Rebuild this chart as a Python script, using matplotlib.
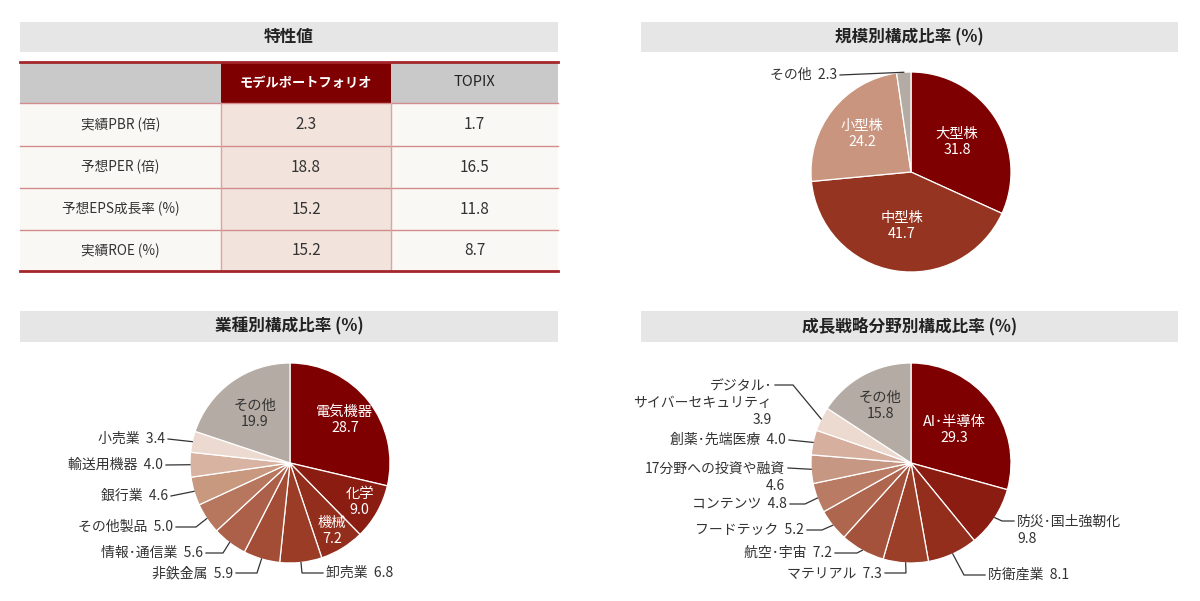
import numpy as np
import matplotlib.pyplot as plt
from matplotlib.patches import Rectangle

plt.rcParams['font.family'] = ['Noto Sans CJK JP', 'DejaVu Sans']

W, H = 1200, 601
R = 100
TXT = '#333333'

# --- data ---
table_rows = ['実績PBR (倍)', '予想PER (倍)', '予想EPS成長率 (%)', '実績ROE (%)']
table_head = ['', 'モデルポートフォリオ', 'TOPIX']
model_vals = [2.3, 18.8, 15.2, 15.2]
topix_vals = [1.7, 16.5, 11.8, 8.7]

size_labels = ['大型株', '中型株', '小型株', 'その他']
size_vals = [31.8, 41.7, 24.2, 2.3]
size_colors = ['#7f0000', '#953421', '#c9957f', '#b4aca4']

sector_labels = ['電気機器', '化学', '機械', '卸売業', '非鉄金属', '情報･通信業',
                 'その他製品', '銀行業', '輸送用機器', '小売業', 'その他']
sector_vals = [28.7, 9.0, 7.2, 6.8, 5.9, 5.6, 5.0, 4.6, 4.0, 3.4, 19.9]
sector_colors = ['#7f0000', '#8a1c12', '#942e1c', '#9b3c27', '#a34d36', '#ac604a',
                 '#b7765e', '#c8987f', '#d8b3a2', '#ecd9cf', '#b4aca4']

growth_labels = ['AI･半導体', '防災･国土強靭化', '防衛産業', 'マテリアル', '航空･宇宙',
                 'フードテック', 'コンテンツ', '17分野への投資や融資', '創薬･先端医療',
                 'デジタル･\nサイバーセキュリティ', 'その他']
growth_vals = [29.3, 9.8, 8.1, 7.3, 7.2, 5.2, 4.8, 4.6, 4.0, 3.9, 15.8]
growth_colors = ['#7f0000', '#8a1c12', '#942e1c', '#9c3f29', '#a4523b', '#ae664f',
                 '#b97b64', '#c69782', '#d6af9e', '#ecd9cf', '#b4aca4']

fig = plt.figure(figsize=(12, 6.01), dpi=100)
ax = fig.add_axes([0, 0, 1, 1])


def Y(y):
    return H - y


def title_bar(x0, x1, y0, y1, text):
    ax.add_patch(Rectangle((x0, Y(y1)), x1 - x0, y1 - y0, facecolor='#e6e6e6', edgecolor='none'))
    ax.text((x0 + x1) / 2, Y((y0 + y1) / 2), text, ha='center', va='center',
            fontsize=12, fontweight='bold', color='#222222')


# --- table ---
title_bar(20, 558, 22, 52, '特性値')
xs = [20, 221, 391, 558]
ys = [62, 103, 146, 188, 230, 271]
head_fill = ['#c9c9c9', '#7f0000', '#c9c9c9']
for j in range(3):
    ax.add_patch(Rectangle((xs[j], Y(ys[1])), xs[j + 1] - xs[j], ys[1] - ys[0],
                           facecolor=head_fill[j], edgecolor='none'))
    ax.text((xs[j] + xs[j + 1]) / 2, Y((ys[0] + ys[1]) / 2), table_head[j],
            ha='center', va='center', fontsize=9.5 if j == 1 else 10.5,
            color='white' if j == 1 else '#222222', fontweight='bold' if j == 1 else 'normal')
for i, name in enumerate(table_rows):
    y0, y1 = ys[i + 1], ys[i + 2]
    cells = [name, f'{model_vals[i]:.1f}', f'{topix_vals[i]:.1f}']
    fills = ['#faf8f5', '#f2e4dc', '#faf8f5']
    for j in range(3):
        ax.add_patch(Rectangle((xs[j], Y(y1)), xs[j + 1] - xs[j], y1 - y0,
                               facecolor=fills[j], edgecolor='none'))
        ax.text((xs[j] + xs[j + 1]) / 2, Y((y0 + y1) / 2), cells[j], ha='center',
                va='center', fontsize=11 if j else 9.8, color=TXT)
for y in ys[1:-1]:
    ax.plot([xs[0], xs[-1]], [Y(y), Y(y)], color='#d38c8c', lw=1)
for x in xs[1:3]:
    ax.plot([x, x], [Y(ys[1]), Y(ys[-1])], color='#dba3a3', lw=1)
for y in (ys[0], ys[-1]):
    ax.plot([xs[0], xs[-1]], [Y(y), Y(y)], color='#a3262a', lw=2)


# --- pies ---
def draw_pie(vals, labels, colors, cx, cy, inner, outer):
    wedges, _ = ax.pie(vals, colors=colors, startangle=90, counterclock=False,
                       radius=R, center=(cx, Y(cy)), frame=True,
                       wedgeprops=dict(edgecolor='white', linewidth=0.9))
    mids = [np.deg2rad((w.theta1 + w.theta2) / 2) for w in wedges]
    # labels inside the wedges
    for i, (f, col) in inner.items():
        a = mids[i]
        ax.text(cx + f * R * np.cos(a), Y(cy) + f * R * np.sin(a),
                f'{labels[i]}\n{vals[i]:.1f}', ha='center', va='center',
                fontsize=10.3, color=col, linespacing=1.2)
    # labels outside with leader lines
    for i, (tx, ty, ha, nl, path) in outer.items():
        a = mids[i]
        ex, ey = cx + R * np.cos(a), Y(cy) + R * np.sin(a)
        pts = [(p[0], Y(p[1])) for p in path] + [(ex, ey)]
        ax.plot([p[0] for p in pts], [p[1] for p in pts], color=TXT, lw=0.9,
                solid_joinstyle='miter')
        sep = '\n' if nl else '  '
        ax.text(tx, Y(ty), f'{labels[i]}{sep}{vals[i]:.1f}', ha=ha, va='center',
                fontsize=10, color=TXT, linespacing=1.28, multialignment=ha)


title_bar(641, 1178, 22, 52, '規模別構成比率 (%)')
draw_pie(size_vals, size_labels, size_colors, 911, 172,
         inner={0: (0.55, 'white'), 1: (0.55, 'white'), 2: (0.62, 'white')},
         outer={3: (837, 75, 'right', False, [(840, 75)])})

title_bar(20, 558, 311, 342, '業種別構成比率 (%)')
draw_pie(sector_vals, sector_labels, sector_colors, 290, 463,
         inner={0: (0.7, 'white'), 1: (0.8, 'white'), 2: (0.8, 'white'), 10: (0.6, TXT)},
         outer={
             3: (326, 573, 'left', False, [(323, 573), (302, 573)]),
             4: (233, 573, 'right', False, [(236, 573), (257, 573)]),
             5: (203, 553, 'right', False, [(206, 553), (223, 553)]),
             6: (173, 527, 'right', False, [(176, 527), (196, 527)]),
             7: (168, 496, 'right', False, [(171, 496)]),
             8: (163, 465, 'right', False, [(166, 465)]),
             9: (165, 439, 'right', False, [(168, 439)]),
         })

title_bar(641, 1178, 311, 342, '成長戦略分野別構成比率 (%)')
draw_pie(growth_vals, growth_labels, growth_colors, 911, 463,
         inner={0: (0.55, 'white'), 10: (0.65, TXT)},
         outer={
             1: (1017, 530, 'left', True, [(1014, 521), (1002, 521)]),
             2: (988, 575, 'left', False, [(985, 575), (964, 575)]),
             3: (882, 573, 'right', False, [(885, 573), (906, 573)]),
             4: (832, 553, 'right', False, [(835, 553), (857, 553)]),
             5: (804, 530, 'right', False, [(807, 530), (822, 530)]),
             6: (787, 504, 'right', False, [(790, 504), (805, 504)]),
             7: (785, 477, 'right', True, [(788, 468)]),
             8: (786, 440, 'right', False, [(789, 440)]),
             9: (772, 403, 'right', True, [(775, 385), (793, 385)]),
         })

ax.set_xlim(0, W)
ax.set_ylim(0, H)
ax.set_aspect('auto')
ax.axis('off')

fig.savefig('out.png', dpi=100, facecolor='white')
